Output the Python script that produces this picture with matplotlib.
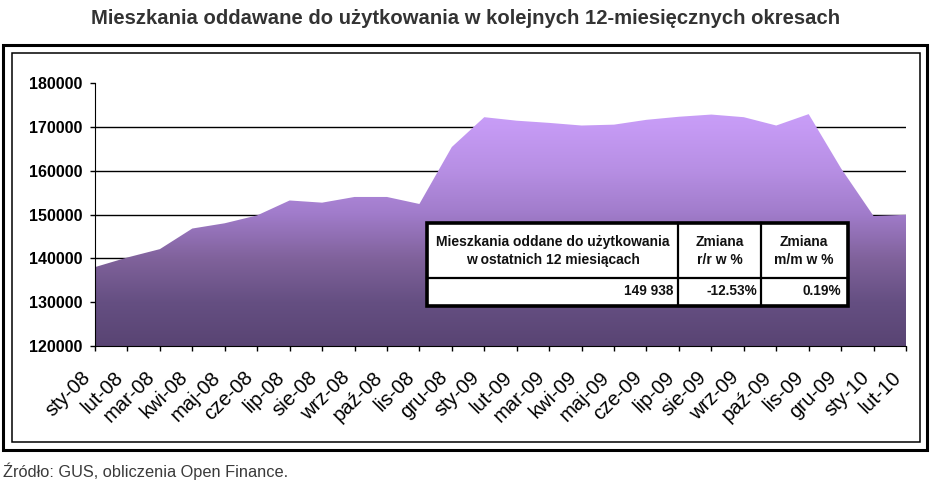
import numpy as np
import matplotlib
matplotlib.use("Agg")
import matplotlib.pyplot as plt
from matplotlib.colors import LinearSegmentedColormap
from matplotlib.patches import Rectangle

plt.rcParams['font.family'] = ['Liberation Sans', 'DejaVu Sans']

# data
labels = ['sty-08', 'lut-08', 'mar-08', 'kwi-08', 'maj-08', 'cze-08', 'lip-08', 'sie-08',
          'wrz-08', 'paź-08', 'lis-08', 'gru-08', 'sty-09', 'lut-09', 'mar-09', 'kwi-09',
          'maj-09', 'cze-09', 'lip-09', 'sie-09', 'wrz-09', 'paź-09', 'lis-09', 'gru-09',
          'sty-10', 'lut-10']
values = [138000, 140200, 142100, 146800, 148000, 149800, 153200, 152700,
          154000, 154000, 152400, 165400, 172200, 171400, 170900, 170300,
          170500, 171600, 172300, 172800, 172200, 170300, 172900, 160500,
          149650, 149938]
yticks = [120000, 130000, 140000, 150000, 160000, 170000, 180000]
gridlines = [130000, 140000, 150000, 160000, 170000]

table_head = ['Mieszkania oddane do użytkowania\nw ostatnich 12 miesiącach',
              'Zmiana\nr/r w %', 'Zmiana\nm/m w %']
table_vals = ['149 938', '-12.53%', '0.19%']

title = 'Mieszkania oddawane do użytkowania w kolejnych 12-miesięcznych okresach'
source = 'Źródło: GUS, obliczenia Open Finance.'

W, H = 932, 486
fig = plt.figure(figsize=(W / 100, H / 100), dpi=100)

# background layer in pixel coords (frames, title, source)
bg = fig.add_axes([0, 0, 1, 1], zorder=0)
bg.set_xlim(0, W)
bg.set_ylim(H, 0)
bg.axis('off')
bg.add_patch(Rectangle((3, 45), 924, 405, fill=False, lw=2.2, ec='black'))
bg.add_patch(Rectangle((11.5, 53), 908, 389, fill=False, lw=1.1, ec='black'))
bg.text(466, 19, title, ha='center', va='center', fontsize=14.6, fontweight='bold', color='#333333')
bg.text(3, 471, source, ha='left', va='center', fontsize=11.8, color='#3a3a3a')

# main chart
ax = fig.add_axes([95 / W, (H - 346) / H, (906 - 95) / W, (346 - 83) / H], zorder=1)
ax.patch.set_alpha(0)
x = np.arange(len(values))
ax.set_xlim(0, len(values) - 1)
ax.set_ylim(120000, 180000)

for g in gridlines:
    ax.axhline(g, color='black', lw=1, zorder=1)

cmap = LinearSegmentedColormap.from_list('purp', [
    (0.0, '#594473'), (0.18, '#654f82'), (0.36, '#80629b'), (0.55, '#a17ccb'),
    (0.73, '#b78fe4'), (0.9, '#c59af4'), (1.0, '#caa0fa')])
grad = np.linspace(0, 1, 256).reshape(-1, 1)
poly = ax.fill_between(x, values, 120000, facecolor='none', edgecolor='none')
im = ax.imshow(grad, cmap=cmap, aspect='auto', origin='lower',
               extent=[0, len(values) - 1, 120000, 175000], zorder=2)
im.set_clip_path(poly.get_paths()[0], ax.transData)

ax.spines['top'].set_visible(False)
ax.spines['right'].set_visible(False)
ax.spines['left'].set_zorder(3)
ax.spines['bottom'].set_zorder(3)
ax.set_yticks(yticks)
ax.set_yticklabels([str(v) for v in yticks], fontweight='bold', fontsize=11.5)
ax.tick_params(axis='y', length=3.6, width=1, pad=5.5, colors='black')
ax.set_xticks(x)
ax.set_xticklabels([])
ax.tick_params(axis='x', length=3.6, width=1)
for xi, lab in zip(x, labels):
    ax.annotate(lab, xy=(xi, 0), xycoords=('data', 'axes fraction'),
                xytext=(-5.5, -20.5), textcoords='offset points',
                rotation=45, rotation_mode='anchor', ha='right', va='center',
                fontsize=14.5, color='black')

# table overlay
tb = fig.add_axes([0, 0, 1, 1], zorder=3)
tb.set_xlim(0, W)
tb.set_ylim(H, 0)
tb.axis('off')
tb.add_patch(Rectangle((427, 223), 421, 83, fc='white', ec='black', lw=2.6))
tb.plot([427, 848], [278, 278], color='black', lw=1.6)
for cx in [678, 761]:
    tb.plot([cx, cx], [223, 306], color='black', lw=1.6)
for cx, txt in zip([553, 720, 804], table_head):
    tb.text(cx, 251, txt, ha='center', va='center', fontsize=10, fontweight='bold',
            linespacing=1.3, color='#111111')
for rx, txt in zip([673, 757, 841], table_vals):
    tb.text(rx, 291, txt, ha='right', va='center', fontsize=9.8, fontweight='bold',
            color='#111111')

fig.savefig('out.png', dpi=100)
